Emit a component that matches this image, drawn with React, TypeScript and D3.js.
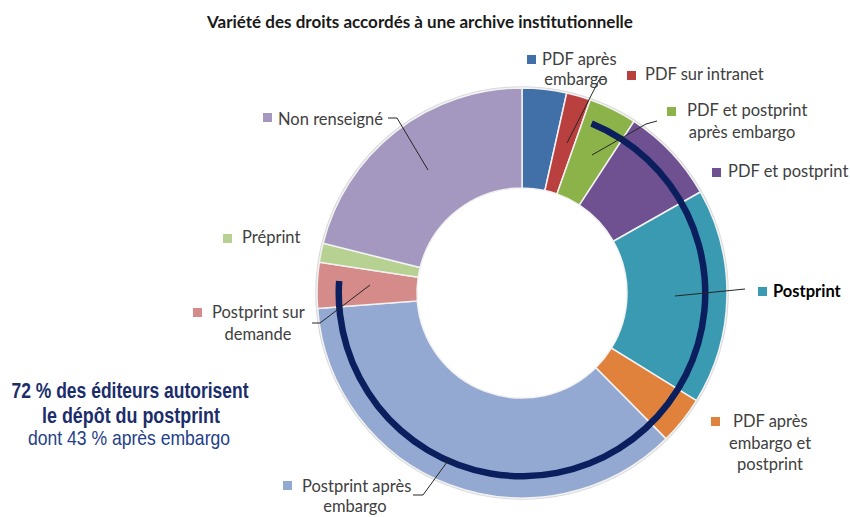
import React from "react";
import * as d3 from "d3";

const categories = [
  "PDF après embargo",
  "PDF sur intranet",
  "PDF et postprint après embargo",
  "PDF et postprint",
  "Postprint",
  "PDF après embargo et postprint",
  "Postprint après embargo",
  "Postprint sur demande",
  "Préprint",
  "Non renseigné",
];
const values = [3.5, 1.9, 3.8, 7.6, 17.0, 3.8, 36.2, 3.6, 1.5, 21.1];
const colors = [
  "#4170a8",
  "#b9403e",
  "#8cb24a",
  "#6f5192",
  "#3a9ab2",
  "#e0823b",
  "#93a9d2",
  "#d58b89",
  "#b7d193",
  "#a598c0",
];
const postprintIdx = [2, 3, 4, 5, 6, 7];

const W = 850;
const H = 517;
const cx = 522;
const cy = 293;
const rOuter = 205;
const rInner = 105;

type Label = {
  lines: string[];
  sq: [number, number];
  tx: number;
  base: number[];
  center: number;
  bold?: boolean;
  leader?: [number, number][];
};

const labels: Label[] = [
  { lines: ["PDF après", "embargo"], sq: [527, 55], tx: 542, base: [65, 85], center: 576, leader: [[606, 79], [599, 80], [567, 143]] },
  { lines: ["PDF sur intranet"], sq: [627, 71], tx: 645, base: [80], center: 0 },
  { lines: ["PDF et postprint", "après embargo"], sq: [667, 107], tx: 687, base: [116, 138], center: 742, leader: [[657, 121], [646, 124], [592, 155]] },
  { lines: ["PDF et postprint"], sq: [712, 168], tx: 728, base: [177], center: 0 },
  { lines: ["Postprint"], sq: [758, 287], tx: 773, base: [297], center: 0, bold: true, leader: [[745, 289], [675, 296]] },
  { lines: ["PDF après", "embargo et", "postprint"], sq: [711, 417], tx: 733, base: [427, 449, 470], center: 770 },
  { lines: ["Postprint après", "embargo"], sq: [283, 481], tx: 302, base: [492, 512], center: 355, leader: [[413, 495], [423, 495], [450, 458]] },
  { lines: ["Postprint sur", "demande"], sq: [193, 308], tx: 212, base: [318, 340], center: 258, leader: [[312, 323], [320, 323], [370, 285]] },
  { lines: ["Préprint"], sq: [223, 234], tx: 242, base: [243], center: 0 },
  { lines: ["Non renseigné"], sq: [263, 113], tx: 278, base: [125], center: 0, leader: [[388, 118], [397, 118], [428, 170]] },
];

const labelFont = "Lato, 'Open Sans', sans-serif";

export default function App() {
  const pie = d3
    .pie<number>()
    .sort(null)
    .value((d) => d);
  const arcs = pie(values);
  const arcGen = d3
    .arc<d3.PieArcDatum<number>>()
    .innerRadius(rInner)
    .outerRadius(rOuter);

  const ppStart = arcs[postprintIdx[0]].startAngle + 0.05;
  const ppEnd = arcs[postprintIdx[postprintIdx.length - 1]].endAngle - 0.085;
  const navyArc = d3.arc()({
    innerRadius: 180,
    outerRadius: 186.5,
    startAngle: ppStart,
    endAngle: ppEnd,
  } as any) as string;

  const line = d3.line();

  return (
    <svg width={W} height={H} style={{ display: "block", position: "absolute", left: 0, top: 0 }}>
      <rect width={W} height={H} fill="#ffffff" />
      <text
        x={420}
        y={28}
        textAnchor="middle"
        fontFamily={labelFont}
        fontWeight={700}
        fontSize={17}
        fill="#1a1a1a"
      >
        Variété des droits accordés à une archive institutionnelle
      </text>
      <g transform={`translate(${cx},${cy})`}>
        <circle r={rOuter + 1} fill="none" stroke="#d9d9d9" strokeWidth={1.5} />
        {arcs.map((a, i) => (
          <path key={i} d={arcGen(a) as string} fill={colors[i]} stroke="#f2f2f2" strokeWidth={1.5} />
        ))}
        <path d={navyArc} fill="#0b1f5e" />
      </g>
      {labels.map((l, i) => (
        <g key={i}>
          {l.leader && (
            <path d={line(l.leader) as string} fill="none" stroke="#262626" strokeWidth={1} />
          )}
          <rect x={l.sq[0]} y={l.sq[1]} width={9} height={9} fill={colors[i]} />
          {l.lines.map((t, j) => (
            <text
              key={j}
              x={j === 0 ? l.tx : l.center}
              y={l.base[j]}
              textAnchor={j === 0 ? "start" : "middle"}
              fontFamily={labelFont}
              fontSize={16.5}
              fontWeight={l.bold ? 700 : 400}
              fill={l.bold ? "#000000" : "#404040"}
            >
              {t}
            </text>
          ))}
        </g>
      ))}
      <g fontFamily="'Liberation Sans', Arial, sans-serif" textAnchor="middle">
        <text x={130} y={398} fontSize={22} fontWeight={700} fill="#1b2d6b" textLength={237} lengthAdjust="spacingAndGlyphs">
          72 % des éditeurs autorisent
        </text>
        <text x={131} y={423} fontSize={22} fontWeight={700} fill="#1b2d6b" textLength={178} lengthAdjust="spacingAndGlyphs">
          le dépôt du postprint
        </text>
        <text x={129} y={445} fontSize={21} fill="#24408a" textLength={202} lengthAdjust="spacingAndGlyphs">
          dont 43 % après embargo
        </text>
      </g>
    </svg>
  );
}
